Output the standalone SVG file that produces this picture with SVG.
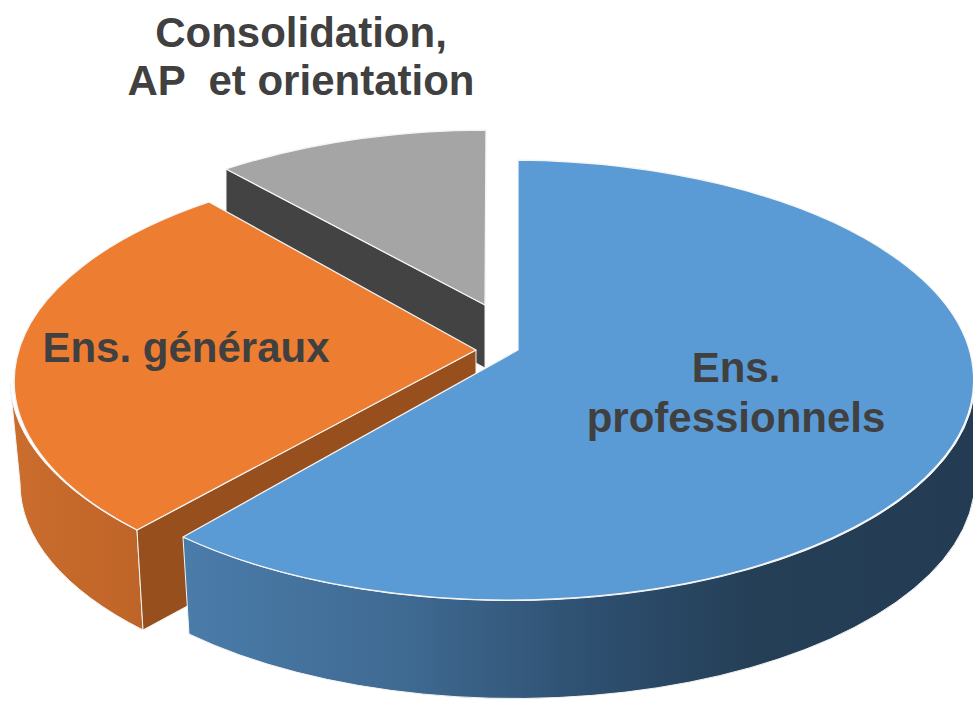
<svg xmlns="http://www.w3.org/2000/svg" width="973" height="701" viewBox="0 0 973 701">
  <defs>
    <linearGradient id="blueSide" gradientUnits="userSpaceOnUse" x1="183" y1="0" x2="973" y2="0">
      <stop offset="0" stop-color="#4a7caa"/>
      <stop offset="0.28" stop-color="#3f6a92"/>
      <stop offset="0.53" stop-color="#2d4e6e"/>
      <stop offset="0.72" stop-color="#253f57"/>
      <stop offset="1" stop-color="#233c53"/>
    </linearGradient>
    <linearGradient id="orangeSide" gradientUnits="userSpaceOnUse" x1="10" y1="0" x2="145" y2="0">
      <stop offset="0" stop-color="#ca6d2d"/>
      <stop offset="1" stop-color="#bf6428"/>
    </linearGradient>
  </defs>
  <style>
    .top { stroke: #f4f4f4; stroke-width: 1.3; stroke-linejoin: round; }
    .face { stroke: #f4f4f4; stroke-width: 1; stroke-linejoin: round; }
    .lbl { font-family: "Liberation Sans", Arial, sans-serif; font-weight: bold; font-size: 42px; fill: #404040; text-anchor: middle; white-space: pre; }
  </style>
  <rect width="973" height="701" fill="#ffffff"/>

  <g id="slice-consolidation">
    <path class="face" d="M226,169 L485,305 L485,368 L226,226 Z" fill="#434343"/>
    <path class="top" d="M485,305 L226,169 A465,220 0 0 1 486,130 Z" fill="#a5a5a5"/>
  </g>

  <g id="slice-generaux">
    <path class="face" d="M10,383 A465,220 0 0 0 137,530 L143,630 A460,215 0 0 1 20,483 Z" fill="url(#orangeSide)"/>
    <path class="face" d="M476,350 L137,530 L143,630 L476,450 Z" fill="#974f1d"/>
    <path class="top" d="M476,350 L209,202 A465,220 0 0 0 137,530 Z" fill="#ed7d31"/>
  </g>

  <g id="slice-professionnels">
    <path class="face" d="M183,537 A465,220 0 0 0 975,380 L975,481 A460,219 0 0 1 189,634 Z" fill="url(#blueSide)"/>
    <path class="top" d="M518,350 L518,160 A465,220 0 1 1 183,537 Z" fill="#5b9bd5"/>
  </g>

  <g id="connectors"/>

  <g id="labels">
    <text class="lbl" x="301" y="47">Consolidation,</text>
    <text class="lbl" x="301" y="95">AP  et orientation</text>
    <text class="lbl" x="186" y="362">Ens. généraux</text>
    <text class="lbl" x="736" y="382">Ens.</text>
    <text class="lbl" x="736" y="432">professionnels</text>
  </g>
</svg>
